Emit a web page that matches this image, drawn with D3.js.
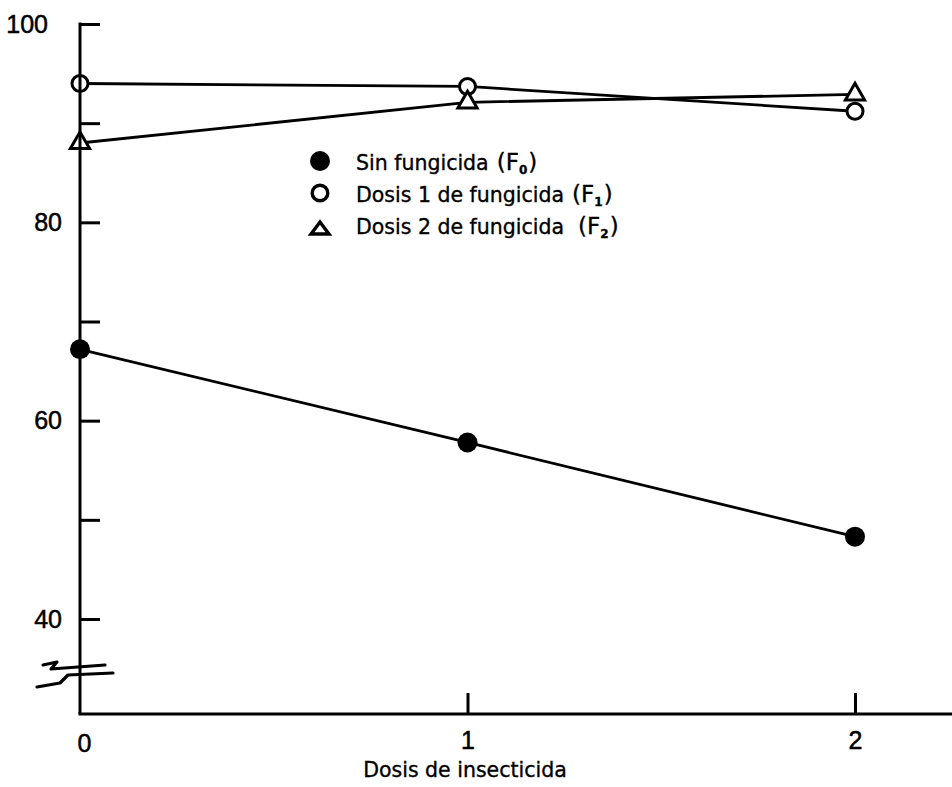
<!DOCTYPE html>
<html>
<head>
<meta charset="utf-8">
<script src="https://cdn.jsdelivr.net/npm/d3@7"></script>
<style>
  html, body { margin: 0; padding: 0; background: #fff; }
  svg { display: block; }
  .num { font-family: "Liberation Sans", Arial, sans-serif; font-size: 25px; fill: #000; stroke: #000; stroke-width: 0.5px; }
  .lbl { font-family: "DejaVu Sans", sans-serif; font-size: 20.5px; fill: #000; stroke: #000; stroke-width: 0.35px; }
</style>
</head>
<body>
<script>
// Insecticide doses on the x axis, response (%) for each fungicide treatment
const doses = [0, 1, 2];
const doseLabels = ["0", "1", "2"];
const sinFungicida = [67.2, 57.8, 48.3];   // F0
const dosis1Fungicida = [94.0, 93.7, 91.2]; // F1
const dosis2Fungicida = [88.0, 92.1, 92.9]; // F2
const yTicks = [40, 50, 60, 70, 80, 90, 100];
const yTickLabels = [40, 60, 80, 100];
const xTitle = "Dosis de insecticida";
const legendNames = ["Sin fungicida", "Dosis 1 de fungicida", "Dosis 2 de fungicida"];
const legendSubs = ["0", "1", "2"];

const W = 952, H = 787;
const axisX = 80, axisBottom = 714;

const svg = d3.select("body").append("svg").attr("width", W).attr("height", H);

const x = d3.scaleLinear().domain([0, 2]).range([axisX, 855]);
const y = d3.scaleLinear().domain([40, 100]).range([619, 24]);

const series = [
  { values: sinFungicida, mark: "dot" },
  { values: dosis1Fungicida, mark: "ring" },
  { values: dosis2Fungicida, mark: "tri" }
];

// connecting lines
const line = d3.line().x((d, i) => x(doses[i])).y(d => y(d));
series.forEach(s => {
  svg.append("path").attr("d", line(s.values))
    .attr("fill", "none").attr("stroke", "#000").attr("stroke-width", 2.8);
});

// markers
const triPath = d3.symbol().type(d3.symbolTriangle).size(160)();
series.forEach(s => {
  s.values.forEach((v, i) => {
    const cx = x(doses[i]), cy = y(v);
    if (s.mark === "dot") {
      svg.append("circle").attr("cx", cx).attr("cy", cy).attr("r", 10).attr("fill", "#000");
    } else if (s.mark === "ring") {
      svg.append("circle").attr("cx", cx).attr("cy", cy).attr("r", 8)
        .attr("fill", "#fff").attr("stroke", "#000").attr("stroke-width", 3);
    } else {
      svg.append("path").attr("d", triPath).attr("transform", `translate(${cx},${cy})`)
        .attr("fill", "#fff").attr("stroke", "#000").attr("stroke-width", 3).attr("stroke-linejoin", "miter");
    }
  });
});

// y axis: inward ticks, labels every 20
const yAxis = d3.axisLeft(y).tickValues(yTicks).tickSizeInner(-20).tickSizeOuter(0).tickPadding(18)
  .tickFormat(d => yTickLabels.includes(d) ? String(d) : "");
const gy = svg.append("g").attr("transform", `translate(${axisX},0)`).call(yAxis);
gy.select(".domain").remove();
gy.selectAll(".tick line").attr("stroke", "#000").attr("stroke-width", 3);
gy.selectAll(".tick text").attr("class", "num").attr("font-size", null).attr("font-family", null)
  .attr("dx", d => d === 100 ? -14 : 0);
svg.append("line").attr("x1", axisX).attr("x2", axisX).attr("y1", y(100) - 1.5).attr("y2", axisBottom)
  .attr("stroke", "#000").attr("stroke-width", 3);

// x axis: upward ticks
const xAxis = d3.axisBottom(x).tickValues(doses).tickSizeInner(-21).tickSizeOuter(0).tickPadding(17)
  .tickFormat((d, i) => doseLabels[i]);
const gx = svg.append("g").attr("transform", `translate(0,${axisBottom})`).call(xAxis);
gx.select(".domain").remove();
gx.selectAll(".tick line").attr("stroke", "#000").attr("stroke-width", 3)
  .attr("opacity", d => d === 0 ? 0 : 1);
gx.selectAll(".tick text").attr("class", "num").attr("font-size", null).attr("font-family", null)
  .attr("dx", d => d === 0 ? 4 : 0).attr("dy", d => d === 0 ? "0.85em" : "0.71em");
svg.append("line").attr("x1", axisX - 1.5).attr("x2", W).attr("y1", axisBottom).attr("y2", axisBottom)
  .attr("stroke", "#000").attr("stroke-width", 3);

// axis break marks
const brk = [
  [[43, 665], [57, 662], [51, 669], [105, 665]],
  [[37, 687], [60, 683], [68, 675], [113, 673]]
];
brk.forEach(pts => {
  svg.append("path").attr("d", d3.line()(pts)).attr("fill", "none")
    .attr("stroke", "#000").attr("stroke-width", 3.2).attr("stroke-linejoin", "round").attr("stroke-linecap", "round");
});

// x title
svg.append("text").attr("class", "lbl").attr("x", 465).attr("y", 777)
  .attr("text-anchor", "middle").text(xTitle);

// legend
const legY = [161, 193, 228];
const baseY = [170, 202, 234];
const lg = svg.append("g");
lg.append("circle").attr("cx", 320).attr("cy", legY[0]).attr("r", 10).attr("fill", "#000");
lg.append("circle").attr("cx", 320).attr("cy", legY[1]).attr("r", 7.8)
  .attr("fill", "none").attr("stroke", "#000").attr("stroke-width", 3.4);
lg.append("path").attr("d", "M311,234 L329,234 L320,222 Z")
  .attr("fill", "none").attr("stroke", "#000").attr("stroke-width", 3.4).attr("stroke-linejoin", "miter");

legendNames.forEach((name, i) => {
  const t = lg.append("text").attr("class", "lbl").attr("x", 356).attr("y", baseY[i]);
  t.append("tspan").text(name);
  t.append("tspan").attr("dx", i === 2 ? 14 : 8).attr("font-size", 23).text("(F");
  t.append("tspan").attr("font-size", 12).attr("font-weight", "bold").attr("dy", 4).text(legendSubs[i]);
  t.append("tspan").attr("font-size", 23).attr("dy", -4).attr("dx", 1).text(")");
});
</script>
</body>
</html>
